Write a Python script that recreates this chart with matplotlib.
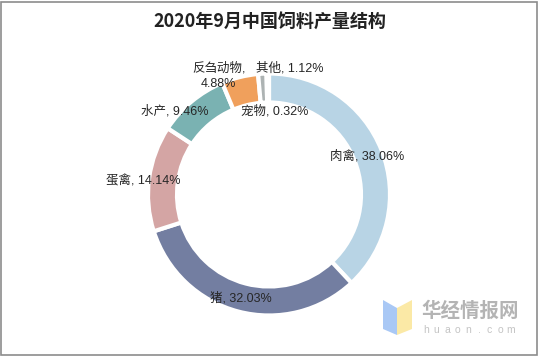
#coding: utf-8
import numpy as np
import matplotlib.pyplot as plt
from matplotlib.patches import Polygon, Rectangle

plt.rcParams['font.family'] = ['Liberation Sans', 'Noto Sans CJK SC']

# donnees
categories = ['肉禽', '猪', '蛋禽', '水产', '反刍动物', '其他', '宠物']
valeurs = [38.06, 32.03, 14.14, 9.46, 4.88, 1.12, 0.32]
couleurs = ['#b8d4e5', '#737ea1', '#d4a5a4', '#7ab2b2', '#f0a05c', '#adb3b3', '#dfe6ea']

W, H = 538, 356
fig = plt.figure(figsize=(W / 100, H / 100), dpi=100)
ax = fig.add_axes([0, 0, 1, 1])

cx, cy = 269, H - 194.5
r_ext = 121
ax.pie(valeurs, colors=couleurs, startangle=90, counterclock=False,
       center=(cx, cy), radius=r_ext,
       wedgeprops=dict(width=29, edgecolor='white', linewidth=3))

ax.set_xlim(0, W)
ax.set_ylim(0, H)
ax.set_aspect('auto')
ax.set_axis_off()

# cadre gris
ax.add_patch(Rectangle((1, 1), W - 2.5, H - 2.5, fill=False, edgecolor='#8c8c8c', linewidth=1.2))

ax.text(270, H - 22, '2020年9月中国饲料产量结构', ha='center', va='center',
        fontsize=13, fontweight='bold', color='#222222',
        family=['Noto Sans CJK SC'])

# etiquettes
fs = 9
c = '#262626'
ax.text(330, H - 156, '肉禽, 38.06%', ha='left', va='center', fontsize=fs, color=c)
ax.text(210, H - 298, '猪, 32.03%', ha='left', va='center', fontsize=fs, color=c)
ax.text(106, H - 181, '蛋禽, 14.14%', ha='left', va='center', fontsize=fs, color=c)
ax.text(141, H - 111, '水产, 9.46%', ha='left', va='center', fontsize=fs, color=c)
ax.text(192, H - 68, '反刍动物,', ha='left', va='center', fontsize=fs, color=c)
ax.text(201, H - 84, '4.88%', ha='left', va='center', fontsize=fs, color=c)
ax.text(256, H - 68, '其他, 1.12%', ha='left', va='center', fontsize=fs, color=c)
ax.text(241, H - 111, '宠物, 0.32%', ha='left', va='center', fontsize=fs, color=c)

# logo huaon
ax.add_patch(Polygon([(383, H - 300), (397, H - 308), (397, H - 335), (383, H - 329)],
                     closed=True, facecolor='#a9c8f5', edgecolor='none'))
ax.add_patch(Polygon([(397, H - 308), (412, H - 300), (412, H - 329), (397, H - 335)],
                     closed=True, facecolor='#fbe9a6', edgecolor='none'))
ax.text(421, H - 311, '华经情报网', ha='left', va='center', fontsize=14,
        fontweight='bold', color='#b4b4b4', family=['Noto Sans CJK SC'])
for i, ch in enumerate('huaon.com'):
    ax.text(426 + i * 10.6, H - 330, ch, ha='center', va='center', fontsize=7.5,
            color='#c4c4c4')

fig.savefig('out.png', dpi=100)
